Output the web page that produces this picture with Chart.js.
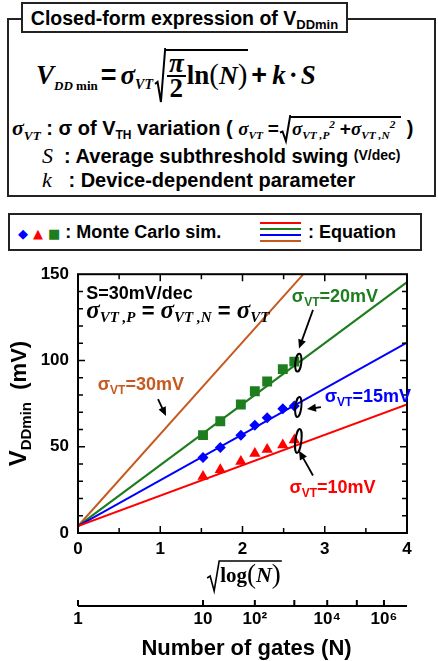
<!DOCTYPE html>
<html>
<head>
<meta charset="utf-8">
<script src="https://cdn.jsdelivr.net/npm/chart.js@4.4.0/dist/chart.umd.min.js"></script>
<style>
body{margin:0;width:438px;height:661px;position:relative;background:#fff;color:#000;overflow:hidden;
  font-family:'Liberation Sans',Arial,sans-serif;font-weight:bold}
.abs{position:absolute;white-space:nowrap}
.m{font-family:'Liberation Serif','Times New Roman',serif;font-style:italic;font-weight:bold}
.up{font-style:normal}
sub{font-size:0.6em;vertical-align:-0.35em;line-height:0}
sup{font-size:0.6em;vertical-align:0.6em;line-height:0}
#box{left:7px;top:18px;width:425px;height:175px;border:2px solid #222}
#ttl{left:21px;top:2px;width:323px;height:27px;border:2px solid #222;background:#fff;font-size:19.5px;text-align:center;line-height:28px}
#ttl sub{font-size:13px;vertical-align:-4px}
.ln{line-height:20px;font-size:20px}
.rad{position:relative;display:inline-block;border-top:2px solid #000;padding:1px 1px 0 1px}
.rad svg{position:absolute;left:-11px;top:-2px;width:11px;height:calc(100% + 4px);overflow:visible}
.frac{display:inline-flex;flex-direction:column;align-items:center;line-height:23px;vertical-align:12px;margin-right:1px}
.frac span:first-child{border-bottom:2px solid #000;padding:0 2px}
#legend{left:8px;top:213px;width:410px;height:34px;border:2px solid #222}
.eqline{position:absolute;left:260px;width:41px;height:2px}
</style>
</head>
<body>

<div class="abs" id="box"></div>
<div class="abs" id="ttl">Closed-form expression of V<sub>DDmin</sub></div>

<div class="abs m" style="left:36px;top:49px;font-size:27px;line-height:30px">
  <span>V<sub style="font-size:13px;vertical-align:-6px">DD <span class="up">min</span></sub></span><span class="up" style="font-family:'Liberation Sans';margin:0 4px 0 3px">=</span><span>σ<sub style="font-size:14px">VT</sub></span><span style="display:inline-block;width:13px"></span><span class="rad"><svg viewBox="0 0 13 50" preserveAspectRatio="none"><polyline points="0,33 3,31 7,50 12,0 13,0" fill="none" stroke="#000" stroke-width="2" vector-effect="non-scaling-stroke"/></svg><span class="frac"><span>π</span><span class="up">2</span></span><span class="up">ln</span><span class="up" style="font-weight:normal;font-size:29px">(</span><span style="font-size:26px">N</span><span class="up" style="font-weight:normal;font-size:29px">)</span></span><span class="up" style="font-family:'Liberation Sans';margin:0 5px 0 3px">+</span>k<span class="up" style="margin:0 3px">·</span>S
</div>

<div class="abs ln" style="left:12px;top:116px">
  <span class="m" style="font-size:22px">σ<sub>VT</sub></span> : σ of V<sub>TH</sub> variation ( <span class="m" style="font-size:19px">σ<sub>VT</sub> <span class="up" style="font-family:'Liberation Sans'">=</span><span style="display:inline-block;width:12px"></span><span class="rad"><svg viewBox="0 0 13 50" preserveAspectRatio="none"><polyline points="0,33 3,31 7,50 12,0 13,0" fill="none" stroke="#000" stroke-width="2" vector-effect="non-scaling-stroke"/></svg>σ<sub>VT ,P</sub><sup>2</sup> <span class="up" style="font-family:'Liberation Sans'">+</span>σ<sub>VT ,N</sub><sup>2</sup>&nbsp;</span></span> )
</div>

<div class="abs ln" style="left:42px;top:145px">
  <span class="m" style="font-size:22px;font-weight:normal">S</span>&nbsp; : Average subthreshold swing <span style="font-size:14px;vertical-align:3px">(V/dec)</span>
</div>

<div class="abs ln" style="left:42px;top:170px">
  <span class="m" style="font-size:22px;font-weight:normal">k</span>&nbsp;&nbsp; : Device-dependent parameter
</div>

<div class="abs" id="legend"></div>
<div class="abs" style="left:18px;top:221px;font-size:18px;line-height:22px">
  <span style="color:#0000ff;font-size:13px;font-family:'DejaVu Sans'">◆</span>
  <span style="color:#ff0000;font-size:13px;font-family:'DejaVu Sans'">▲</span>
  <span style="color:#1e7d1e;font-size:13px;font-family:'DejaVu Sans'">■</span>
  : Monte Carlo sim.
</div>
<div class="eqline" style="top:222px;background:#ff0000"></div>
<div class="eqline" style="top:228px;background:#1e7d1e"></div>
<div class="eqline" style="top:234px;background:#0000ff"></div>
<div class="eqline" style="top:240px;background:#c65a1e"></div>
<div class="abs" style="left:308px;top:221px;font-size:18px;line-height:22px">: Equation</div>

<div class="abs" style="left:0;top:255px;width:438px;height:406px"><canvas id="c"></canvas></div>

<script>
// sqrt(ln N) positions of the Monte Carlo points (N = 10 ... 1000)
const mcX = [1.52, 1.73, 1.98, 2.15, 2.30, 2.49, 2.63];
const mc10 = [32.8, 36.6, 41.4, 46.1, 48.4, 51.0, 53.9];
const mc15 = [43.7, 49.6, 56.7, 62.5, 66.8, 72.0, 73.6];
const mc20 = [56.7, 64.8, 74.5, 82.2, 87.8, 95.0, 99.3];

// equation lines, two end points each
const eqX = [0, 4];
const eq10 = [4, 74.5];
const eq15 = [4, 110.3];
const eq20 = [4, 145.4];
const eq30X = [0, 2.74];
const eq30 = [4, 150];

const gateTickPos = [0, 1.52, 2.15, 2.63, 3.03, 3.39, 3.72];
const gateTickLabels = ['1', '10', '10²', '', '10⁴', '', '10⁶'];

const RED = '#ff0000', BLUE = '#0000ff', GREEN = '#1e7d1e', ORANGE = '#c65a1e';
const SANS = "'Liberation Sans', Arial, sans-serif";
const SERIF = "'Liberation Serif', 'Times New Roman', serif";

const pts = (xs, ys) => xs.map((x, i) => ({x: x, y: ys[i]}));

function rich(ctx, x, y, parts) {
  let cx = x;
  parts.forEach(p => {
    ctx.font = p[1];
    ctx.fillText(p[0], cx, y + (p[2] || 0));
    cx += ctx.measureText(p[0]).width;
  });
  return cx - x;
}

function richWidth(ctx, parts) {
  let w = 0;
  parts.forEach(p => { ctx.font = p[1]; w += ctx.measureText(p[0]).width; });
  return w;
}

function arrow(ctx, x1, y1, x2, y2) {
  const ang = Math.atan2(y2 - y1, x2 - x1);
  ctx.beginPath();
  ctx.moveTo(x1, y1);
  ctx.lineTo(x2 - 6 * Math.cos(ang), y2 - 6 * Math.sin(ang));
  ctx.stroke();
  ctx.beginPath();
  ctx.moveTo(x2, y2);
  ctx.lineTo(x2 - 9 * Math.cos(ang) + 4 * Math.sin(ang), y2 - 9 * Math.sin(ang) - 4 * Math.cos(ang));
  ctx.lineTo(x2 - 9 * Math.cos(ang) - 4 * Math.sin(ang), y2 - 9 * Math.sin(ang) + 4 * Math.cos(ang));
  ctx.closePath();
  ctx.fill();
}

const sigLabel = (v) => [
  ['σ', 'bold 18px ' + SANS],
  ['VT', 'bold 12px ' + SANS, 4],
  ['=' + v, 'bold 18px ' + SANS]
];

const decor = {
  id: 'decor',
  afterDraw(chart) {
    const {ctx, chartArea: a, scales} = chart;
    const x = scales.x, y = scales.y, x2 = scales.x2;
    const P = (xv, yv) => [x.getPixelForValue(xv), y.getPixelForValue(yv)];
    ctx.save();
    ctx.strokeStyle = '#000';
    ctx.fillStyle = '#000';

    // frame and inward ticks
    ctx.lineWidth = 2;
    ctx.strokeRect(a.left, a.top, a.width, a.height);
    ctx.lineWidth = 1.5;
    ctx.beginPath();
    for (let v = 10; v < 150; v += 10) {
      const py = y.getPixelForValue(v), L = v % 50 === 0 ? 7 : 5;
      ctx.moveTo(a.left, py); ctx.lineTo(a.left + L, py);
      ctx.moveTo(a.right, py); ctx.lineTo(a.right - L, py);
    }
    for (let v = 0.5; v < 4; v += 0.5) {
      const px = x.getPixelForValue(v), L = v % 1 === 0 ? 7 : 5;
      ctx.moveTo(px, a.bottom); ctx.lineTo(px, a.bottom - L);
      ctx.moveTo(px, a.top); ctx.lineTo(px, a.top + L);
    }
    ctx.stroke();

    // N axis line with upward ticks
    ctx.lineWidth = 2;
    ctx.beginPath();
    ctx.moveTo(x2.left, x2.top); ctx.lineTo(x2.right, x2.top);
    gateTickPos.forEach(v => {
      const px = x2.getPixelForValue(v);
      ctx.moveTo(px, x2.top); ctx.lineTo(px, x2.top - 6);
    });
    ctx.stroke();

    // y title
    const yt = [['V', 'bold 24px ' + SANS], ['DDmin', 'bold 15px ' + SANS, 5], ['  (mV)', 'bold 22px ' + SANS]];
    ctx.save();
    ctx.translate(26, (a.top + a.bottom) / 2);
    ctx.rotate(-Math.PI / 2);
    rich(ctx, -richWidth(ctx, yt) / 2, 0, yt);
    ctx.restore();

    // sqrt(log(N)) title
    const xt = [['log', 'bold 21px ' + SERIF], ['(', '27px ' + SERIF, 1], ['N', 'italic bold 22px ' + SERIF], [')', '27px ' + SERIF, 1]];
    const xw = richWidth(ctx, xt);
    const xc = (a.left + a.right) / 2 + 8, xb = a.bottom + 49;
    const s = xc - xw / 2;
    rich(ctx, s, xb, xt);
    ctx.lineWidth = 1.6;
    ctx.beginPath();
    ctx.moveTo(s - 13, xb - 4); ctx.lineTo(s - 10, xb - 6);
    ctx.lineTo(s - 6, xb + 9); ctx.lineTo(s - 1, xb - 21); ctx.lineTo(s + xw + 1, xb - 21);
    ctx.stroke();

    // N axis title
    ctx.font = 'bold 22px ' + SANS;
    ctx.textAlign = 'center';
    ctx.fillText('Number of gates (N)', (x2.left + x2.right) / 2 + 4, x2.top + 49);
    ctx.textAlign = 'left';

    // notes inside the plot
    let p = P(0.1, 135.6);
    ctx.font = 'bold 18px ' + SANS;
    ctx.fillText('S=30mV/dec', p[0], p[1]);
    p = P(0.1, 124.7);
    const big = 'italic bold 25px ' + SERIF, sm = 'italic bold 15px ' + SERIF, eq = 'bold 22px ' + SANS;
    rich(ctx, p[0], p[1], [['σ', big], ['VT ,P', sm, 4], [' = ', eq], ['σ', big], ['VT ,N', sm, 4], [' = ', eq], ['σ', big], ['VT', sm, 4]]);

    // sigma labels
    ctx.fillStyle = GREEN; p = P(2.60, 133.9); rich(ctx, p[0], p[1], sigLabel('20mV'));
    ctx.fillStyle = BLUE; p = P(3.00, 75.9); rich(ctx, p[0], p[1], sigLabel('15mV'));
    ctx.fillStyle = RED; p = P(2.57, 23.0); rich(ctx, p[0], p[1], sigLabel('10mV'));
    ctx.fillStyle = ORANGE; p = P(0.24, 82.8); rich(ctx, p[0], p[1], sigLabel('30mV'));

    // arrows
    ctx.fillStyle = '#000'; ctx.strokeStyle = '#000'; ctx.lineWidth = 1.8;
    let q, r;
    q = P(2.857, 129.3); r = P(2.687, 106.9); arrow(ctx, q[0], q[1], r[0], r[1]);
    q = P(2.954, 73.0); r = P(2.784, 71.8); arrow(ctx, q[0], q[1], r[0], r[1]);
    q = P(2.857, 33.3); r = P(2.687, 47.7); arrow(ctx, q[0], q[1], r[0], r[1]);
    q = P(0.973, 77.6); r = P(1.07, 67.8); arrow(ctx, q[0], q[1], r[0], r[1]);

    // loops around the last simulated points
    ctx.lineWidth = 2;
    [[mc20, 9], [mc15, 10], [mc10, 12]].forEach(e => {
      const last = e[0].length - 1;
      const c = P(mcX[last], e[0][last]);
      ctx.beginPath();
      ctx.ellipse(c[0] + 4, c[1] + 1, 3, e[1], 0.12, 0, Math.PI * 2);
      ctx.stroke();
    });
    ctx.restore();
  }
};

const tickFont = {family: SANS, size: 17, weight: 'bold'};

new Chart(document.getElementById('c'), {
  type: 'scatter',
  data: {
    datasets: [
      {data: pts(mcX, mc20), pointStyle: 'rect', pointRadius: 7, backgroundColor: GREEN, borderColor: GREEN, borderWidth: 0},
      {data: pts(mcX, mc15), pointStyle: 'rectRot', pointRadius: 5.5, backgroundColor: BLUE, borderColor: BLUE, borderWidth: 0},
      {data: pts(mcX, mc10), pointStyle: 'triangle', pointRadius: 6.5, backgroundColor: RED, borderColor: RED, borderWidth: 0},
      {data: pts(eqX, eq10), showLine: true, borderColor: RED, borderWidth: 2, pointRadius: 0},
      {data: pts(eqX, eq15), showLine: true, borderColor: BLUE, borderWidth: 2, pointRadius: 0},
      {data: pts(eqX, eq20), showLine: true, borderColor: GREEN, borderWidth: 2, pointRadius: 0},
      {data: pts(eq30X, eq30), showLine: true, borderColor: ORANGE, borderWidth: 2, pointRadius: 0}
    ]
  },
  options: {
    responsive: true,
    maintainAspectRatio: false,
    animation: false,
    layout: {padding: {top: 15, right: 31, left: 0, bottom: 0}},
    plugins: {legend: {display: false}, tooltip: {enabled: false}},
    scales: {
      x: {
        type: 'linear', min: 0, max: 4, position: 'bottom',
        grid: {display: false, drawTicks: false}, border: {display: false},
        ticks: {stepSize: 1, padding: 6, color: '#000', font: tickFont, maxRotation: 0},
        afterFit: s => { s.height = 73; }
      },
      x2: {
        type: 'linear', min: 0, max: 4, position: 'bottom',
        grid: {display: false, drawTicks: false}, border: {display: false},
        afterBuildTicks: s => { s.ticks = gateTickPos.map(v => ({value: v})); },
        ticks: {autoSkip: false, maxRotation: 0, padding: 3, color: '#000', font: tickFont,
          callback: (v, i) => gateTickLabels[i]},
        afterFit: s => { s.height = 55; }
      },
      y: {
        min: 0, max: 150,
        grid: {display: false, drawTicks: false}, border: {display: false},
        ticks: {stepSize: 50, padding: 9, color: '#000', font: tickFont},
        afterFit: s => { s.width = 78; }
      }
    }
  },
  plugins: [decor]
});
</script>
</body>
</html>
